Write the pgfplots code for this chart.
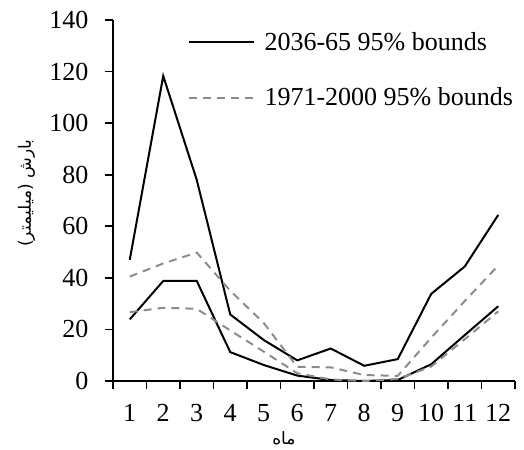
\documentclass[border=0pt]{standalone}
\usepackage{pgfplots}
\pgfplotsset{compat=1.18}
\usepackage{fontspec}
\setmainfont{Liberation Serif}
\newfontfamily\arabicfont[Script=Arabic]{DejaVu Sans}
\TeXXeTstate=1
\definecolor{dgray}{HTML}{8C8C8C}
\begin{document}
\begin{tikzpicture}
\begin{axis}[
  scale only axis,
  width=402pt, height=361pt,
  xmin=0.5, xmax=12.5,
  ymin=0, ymax=140,
  axis lines=left,
  axis line style={line width=1.6pt, -},
  xtick={1,...,12},
  major x tick style={draw=none},
  minor xtick={0.5,1.5,...,12.5},
  minor tick length=8pt,
  x tick style={line width=1.6pt, black},
  ytick={0,20,...,140},
  y tick style={line width=1.6pt, black},
  major tick length=8pt,
  tick align=outside,
  tick label style={font=\fontsize{26}{30}\selectfont},
  /pgf/number format/assume math mode=true,
  xticklabel style={yshift=-12pt},
  yticklabel style={xshift=-13pt},
  ylabel={\arabicfont\fontsize{17}{20}\selectfont\beginR بارش (میلیمتر)\endR},
  ylabel style={at={(axis description cs:-0.215,0.52)}, anchor=center},
  xlabel={\arabicfont\fontsize{17}{20}\selectfont\beginR ماه\endR},
  xlabel style={at={(axis description cs:0.425,-0.16)}, anchor=center, inner sep=0pt},
  legend style={draw=none, fill=none, at={(axis description cs:0.185,0.972)}, anchor=north west,
    font=\fontsize{26}{30}\selectfont, row sep=32pt, inner sep=0pt,
    /tikz/every odd column/.append style={column sep=8pt}},
  legend cell align=left,
  legend image code/.code={\draw[#1] (0pt,0pt) -- (65pt,0pt);},
  clip=false,
]
\addplot[black, line width=2pt] coordinates {(1,47) (2,118.3) (3,78) (4,25.8) (5,15.9) (6,8) (7,12.6) (8,5.9) (9,8.5) (10,33.8) (11,44.4) (12,64.4)};
\addlegendentry{2036-65 95\% bounds}
\addplot[dgray, line width=2pt, dash pattern=on 8pt off 6pt] coordinates {(1,40.5) (2,45.6) (3,49.8) (4,35) (5,22.5) (6,5.5) (7,5.3) (8,2.3) (9,2.0) (10,16.8) (11,31) (12,44.8)};
\addlegendentry{1971-2000 95\% bounds}
\addplot[black, line width=2pt, forget plot] coordinates {(1,23.9) (2,38.8) (3,38.8) (4,11.2) (5,6.2) (6,2.1) (7,0.4) (8,0) (9,0.4) (10,6.5) (11,17.8) (12,29)};
\addplot[dgray, line width=2pt, dash pattern=on 8pt off 6pt, forget plot] coordinates {(1,26.7) (2,28.4) (3,28) (4,19.6) (5,11.4) (6,3) (7,0.6) (8,0) (9,0.8) (10,5.6) (11,16.2) (12,27)};
\coordinate (bbbl) at (axis description cs:-0.2811,-0.1911);
\coordinate (bbtr) at (axis description cs:1.0224,1.0554);
\end{axis}
\pgfresetboundingbox
\path[use as bounding box] (bbbl) rectangle (bbtr);
\end{tikzpicture}
\end{document}
